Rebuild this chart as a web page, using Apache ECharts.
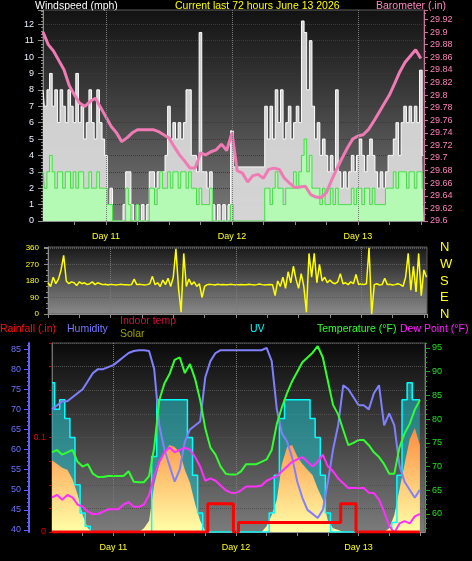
<!DOCTYPE html>
<html>
<head>
<meta charset="utf-8">
<title>Current last 72 hours</title>
<script src="https://cdn.jsdelivr.net/npm/echarts@6.0.0/dist/echarts.min.js"></script>
<style>
html, body { margin: 0; padding: 0; background: #000; }
#main { width: 472px; height: 561px; }
</style>
</head>
<body>
<div id="main"></div>
<script>
// x values are hours counted from June 10 00:00, data starts at noon
var startHour = 12;
var windStep = 0.5;   // wind samples every half hour
var hourStep = 1;     // everything else hourly

var dayTicks = [24, 48, 72];
var dayNames = ['Day 11', 'Day 12', 'Day 13'];
var compassTicks = [0, 90, 180, 270, 360];
var compassNames = ['N', 'E', 'S', 'W', 'N'];
var humidityTicks = [40, 45, 50, 55, 60, 65, 70, 75, 80, 85];
var humidityMinor = [40, 41, 42, 43, 44, 45, 46, 47, 48, 49, 50, 51, 52, 53, 54, 55, 56, 57, 58, 59, 60, 61, 62, 63, 64, 65, 66, 67, 68, 69, 70, 71, 72, 73, 74, 75, 76, 77, 78, 79, 80, 81, 82, 83, 84, 85, 86];
var tempTicks = [60, 65, 70, 75, 80, 85, 90, 95];
var tempMinor = [57, 58, 59, 60, 61, 62, 63, 64, 65, 66, 67, 68, 69, 70, 71, 72, 73, 74, 75, 76, 77, 78, 79, 80, 81, 82, 83, 84, 85, 86, 87, 88, 89, 90, 91, 92, 93, 94, 95, 96];

// wind (mph), half hourly
var gust = [8, 7, 8, 9, 7, 8, 6, 8, 7, 6, 8, 7, 6, 9, 6, 7, 5, 6, 8, 6, 5, 8, 6, 5,
  4, 1, 2, 0, 0, 0, 0, 1, 3, 3, 1, 0, 1, 0, 1, 0, 1, 3, 3, 2, 3, 3, 3, 4,
  7, 5, 6, 5, 6, 5, 6, 8, 8, 4, 4, 3, 11.5, 3, 3, 2, 3, 1, 0, 1, 0, 1, 0, 1,
  5.5, 3.3, 3.3, 3.3, 3.3, 3.3, 3.3, 3.3, 3.3, 3.3, 3.3, 3.3, 3.3, 7, 5, 7, 5, 8, 6, 8, 5, 6, 7, 5,
  6, 7, 6, 12.2, 11.5, 8, 11, 7, 5, 6, 4, 5, 4, 3, 4, 3, 8, 3, 2, 3, 2, 3, 4, 3,
  4, 5, 4, 3, 4, 5, 4, 3, 2, 3, 2, 3, 4, 4, 5, 6, 4, 6, 7, 6, 7, 6, 7, 6, 9.2, 4];
var windAvg = [3, 2, 3, 4, 3, 2, 3, 3, 2, 3, 3, 2, 3, 2, 3, 3, 2, 2, 3, 2, 2, 3, 2, 2,
  2, 1, 1, 0, 0, 0, 0, 0, 2, 1, 0, 0, 1, 0, 0, 0, 0, 2, 2, 1, 2, 3, 2, 2,
  3, 2, 3, 3, 2, 3, 3, 2, 3, 2, 2, 1, 2, 1, 1, 1, 2, 0, 0, 0, 0, 0, 0, 0,
  1, 0, 0, 0, 0, 0, 0, 0, 0, 0, 0, 0, 0, 2, 2, 1, 2, 3, 2, 2, 1, 2, 2, 2,
  3, 2, 3, 4, 5, 3, 4, 2, 2, 2, 1, 2, 1, 1, 2, 1, 2, 1, 1, 1, 1, 1, 2, 1,
  2, 2, 1, 2, 2, 1, 2, 1, 1, 1, 1, 2, 2, 2, 3, 2, 3, 3, 3, 2, 3, 3, 2, 3, 3, 2];
// wind direction (degrees), half hourly
var windDir = [170, 150, 200, 165, 190, 240, 320, 180, 165, 175, 170, 155, 175, 165, 170, 160, 165, 175, 160, 170, 165, 160, 162, 158,
  162, 160, 158, 160, 162, 160, 160, 158, 160, 190, 160, 162, 160, 158, 160, 165, 205, 160, 170, 150, 185, 160, 195, 150,
  200, 355, 140, 10, 330, 150, 190, 160, 175, 150, 165, 90, 150, 160, 162, 160, 158, 162, 160, 161, 159, 160, 162, 160,
  158, 160, 161, 160, 159, 162, 160, 158, 160, 163, 160, 158, 160, 161, 160, 100, 180, 150, 200, 140, 230, 170, 260, 190,
  140, 220, 150, 10, 330, 200, 330, 170, 270, 180, 200, 170, 185, 170, 165, 175, 220, 165, 170, 160, 175, 165, 215, 160,
  165, 160, 165, 360, 0, 160, 165, 158, 160, 195, 160, 162, 158, 160, 165, 160, 150, 200, 330, 130, 260, 120, 330, 100, 240, 200];

// hourly series
var baro = [29.90, 29.88, 29.87, 29.855, 29.84, 29.815, 29.80, 29.787, 29.782, 29.79,
  29.795, 29.78, 29.765, 29.75, 29.74, 29.726, 29.732, 29.74, 29.745, 29.745,
  29.745, 29.745, 29.742, 29.737, 29.732, 29.718, 29.705, 29.695, 29.684, 29.684,
  29.708, 29.705, 29.71, 29.713, 29.722, 29.712, 29.74, 29.68, 29.676, 29.662,
  29.672, 29.674, 29.668, 29.682, 29.684, 29.682, 29.668, 29.66, 29.653, 29.654,
  29.655, 29.642, 29.638, 29.637, 29.645, 29.665, 29.683, 29.70, 29.716, 29.73,
  29.735, 29.737, 29.745, 29.758, 29.772, 29.786, 29.80, 29.818, 29.837, 29.852,
  29.862, 29.872, 29.858];
var humidity = [70, 71, 72, 72, 73, 74, 75, 77, 79, 80,
  80, 80.5, 81, 82, 83, 84, 84.5, 84.7, 84.7, 84.5,
  80, 66, 60, 56, 52, 55, 62, 65, 66, 67,
  78, 82, 84, 84.7, 84.7, 84.7, 84.7, 84.7, 84.7, 84.7,
  84.7, 84.7, 85.3, 82, 70, 64, 62, 58, 52, 48,
  45, 44, 43, 45, 52, 60, 66, 76, 75, 73,
  71, 71, 70, 74, 76, 66, 69, 66, 56, 52,
  50, 48, 50];
var temperature = [73, 73.5, 72.5, 73, 73.5, 71, 70, 70.5, 68.5, 67.8,
  67.8, 68, 68, 68, 68, 69, 66.8, 66.7, 66.7, 68,
  74, 84, 87.5, 89.5, 92.5, 93, 89.7, 91.6, 88.5, 84,
  78, 74, 72.5, 70, 68.5, 68.3, 68.3, 69, 70.5, 70.5,
  70.5, 71, 71.5, 73.5, 79, 82.5, 85.5, 88, 90, 92,
  93, 94, 95.4, 93, 88, 83, 81, 77.7, 74.5, 75,
  75.6, 75.6, 74.5, 73, 72, 70.5, 68.5, 68.5, 74, 77,
  79, 82, 84];
var dewPoint = [63.5, 64, 63, 64, 63.5, 62, 61.5, 60.5, 60, 60,
  60.5, 61, 61, 61, 62, 62.5, 61.5, 61.5, 62, 64,
  68, 71, 73, 74, 73, 73.5, 74, 73.5, 72, 70,
  67, 67.5, 67, 66, 65, 64.5, 64.4, 65, 65.8, 65.8,
  65.8, 66, 67, 67.5, 68, 69, 70, 71, 71.5, 72,
  71, 70, 71, 72.5, 70, 69, 67.5, 66.5, 65.5, 65.5,
  65.5, 65.5, 64.5, 64.4, 63, 60.5, 57.5, 56, 58, 58.5,
  58, 59.5, 60];
var solar = [380, 360, 340, 330, 280, 200, 90, 20, 0, 0,
  0, 0, 0, 0, 0, 0, 0, 0, 20, 60,
  250, 360, 420, 460, 450, 420, 330, 260, 150, 60,
  5, 0, 0, 0, 0, 0, 0, 0, 0, 0,
  0, 0, 30, 90, 170, 360, 450, 460, 400, 360,
  330, 300, 230, 170, 60, 20, 10, 0, 0, 0,
  0, 0, 0, 0, 0, 0, 20, 90, 225, 360,
  490, 550, 460];
var uv = [7.9, 6.5, 7, 6, 5, 2.5, 1, 0.3, 0, 0,
  0, 0, 0, 0, 0, 0, 0, 0, 0, 0,
  4, 7, 7, 7, 7, 7, 7, 5, 3, 1,
  0, 0, 0, 0, 0, 0, 0, 0, 0, 0,
  0, 0, 0, 1, 3, 6, 7, 7, 7, 7,
  7, 6, 5, 3, 1, 0, 0, 0, 0, 0,
  0, 0, 0, 0, 0, 0, 0, 0.5, 3, 7,
  7.9, 7, 7];
var rain = [0, 0, 0, 0, 0, 0, 0, 0, 0, 0,
  0, 0, 0, 0, 0, 0, 0, 0, 0, 0,
  0, 0, 0, 0, 0, 0, 0, 0, 0, 0,
  0, 0.03, 0.03, 0.03, 0.03, 0.03, 0, 0.01, 0.01, 0.01,
  0.01, 0.01, 0.01, 0.01, 0.01, 0.01, 0.01, 0.01, 0.01, 0.01,
  0.01, 0.01, 0.01, 0.01, 0.01, 0.01, 0.01, 0.03, 0.03, 0.03,
  0, 0, 0, 0, 0, 0, 0, 0, 0, 0,
  0, 0, 0];

var font = '"Liberation Sans", Arial, sans-serif';

function pairs(arr, step) {
  return arr.map(function (v, i) { return [startHour + i * step, v]; });
}
function shade(top, bottom) {
  return { type: 'linear', x: 0, y: 0, x2: 0, y2: 1,
    colorStops: [{ offset: 0, color: top }, { offset: 1, color: bottom }] };
}
function dayLabel(v) {
  var k = dayTicks.indexOf(v);
  return k >= 0 ? dayNames[k] : '';
}
function hourAxis(gi, max, labels) {
  return {
    type: 'value', gridIndex: gi, min: 12, max: max, interval: 6,
    axisLine: { show: true, lineStyle: { color: '#8c8c8c' } },
    axisTick: { show: true, length: 4, lineStyle: { color: '#8c8c8c' } },
    axisLabel: { show: labels, color: '#ffff20', fontSize: 9, fontFamily: font, margin: 11,
      formatter: dayLabel, showMinLabel: false, showMaxLabel: false },
    splitLine: { show: false }
  };
}
// dotted lines on day boundaries
var dayLines = {
  silent: true, symbol: 'none', label: { show: false },
  lineStyle: { type: 'dotted', color: '#7a7a7a', width: 1 },
  data: dayTicks.map(function (d) { return { xAxis: d }; })
};
function txt(x, y, s, c) {
  return { type: 'text', x: x, y: y, style: { text: s, fill: c, font: '10.5px ' + font } };
}

var myChart = echarts.init(document.getElementById('main'));
var option = {
  backgroundColor: '#000',
  animation: false,
  graphic: [
    txt(35, 1, 'Windspeed (mph)', '#ffffff'),
    txt(175, 1, 'Current last 72 hours June 13 2026', '#ffff00'),
    txt(376, 1, 'Barometer (.in)', '#ff88c0'),
    txt(0, 324, 'Rainfall (.in)', '#ff1010'),
    txt(67, 324, 'Humidity', '#7878ff'),
    txt(120, 316, 'Indoor temp', '#c8143c'),
    txt(120, 329, 'Solar', '#a0a000'),
    txt(250, 324, 'UV', '#00ffff'),
    txt(317, 324, 'Temperature (°F)', '#30ff30'),
    txt(400, 324, 'Dew Point (°F)', '#ff20ff')
  ],
  grid: [
    { left: 43, right: 48, top: 10, height: 211, show: true, backgroundColor: shade('#121212', '#7a7a7a'), borderColor: '#5a5a5a', borderWidth: 1 },
    { left: 48, right: 45, top: 247, height: 67, show: true, backgroundColor: shade('#181818', '#8a8a8a'), borderColor: '#5a5a5a', borderWidth: 1 },
    { left: 52, right: 47, top: 343, height: 189, show: true, backgroundColor: shade('#0a0a0a', '#7c7c7c'), borderColor: '#5a5a5a', borderWidth: 1 }
  ],
  xAxis: [hourAxis(0, 84.6, true), hourAxis(1, 84.6, false), hourAxis(2, 85, true)],
  yAxis: [
    { // 0 wind speed
      type: 'value', gridIndex: 0, position: 'left', min: 0, max: 12.87, interval: 1,
      axisLine: { show: true, lineStyle: { color: '#8c8c8c' } },
      axisTick: { show: true, length: 5, lineStyle: { color: '#8c8c8c' } },
      minorTick: { show: true, splitNumber: 5, length: 2, lineStyle: { color: '#8c8c8c' } },
      axisLabel: { color: '#e8f0ff', fontSize: 9, fontFamily: font, margin: 9, showMaxLabel: false },
      splitLine: { show: true, lineStyle: { type: 'dotted', color: '#3a3a3a' } }
    },
    { // 1 barometer
      type: 'value', gridIndex: 0, position: 'right', min: 29.6, max: 29.935, interval: 0.02,
      axisLine: { show: true, lineStyle: { color: '#d070a0' } },
      axisTick: { show: true, length: 4, lineStyle: { color: '#d070a0' } },
      minorTick: { show: true, splitNumber: 2, length: 2, lineStyle: { color: '#d070a0' } },
      axisLabel: { color: '#ff80b8', fontSize: 9, fontFamily: font, margin: 6, showMaxLabel: false },
      splitLine: { show: false }
    },
    { // 2 wind direction
      type: 'value', gridIndex: 1, position: 'left', min: 0, max: 365, interval: 90,
      axisLine: { show: true, lineStyle: { color: '#8c8c8c' } },
      axisTick: { show: true, length: 4, lineStyle: { color: '#8c8c8c' } },
      minorTick: { show: true, splitNumber: 3, length: 2, lineStyle: { color: '#8c8c8c' } },
      axisLabel: { color: '#ffff20', fontSize: 8, fontFamily: font, margin: 9, showMaxLabel: false },
      splitLine: { show: true, lineStyle: { type: 'dotted', color: '#5a5a5a' } }
    },
    { // 3 compass letters
      type: 'value', gridIndex: 1, position: 'right', min: 0, max: 365, interval: 90,
      axisLine: { show: false }, axisTick: { show: false }, splitLine: { show: false },
      axisLabel: { color: '#ffff20', fontSize: 13, fontFamily: font, margin: 13, showMaxLabel: false,
        formatter: function (v) { var k = compassTicks.indexOf(v); return k >= 0 ? compassNames[k] : ''; } }
    },
    { // 4 rainfall
      type: 'value', gridIndex: 2, position: 'left', min: 0, max: 0.2, interval: 0.025,
      axisLine: { show: true, lineStyle: { color: '#707070' } },
      axisTick: { show: true, length: 3, lineStyle: { color: '#d00000' } },
      axisLabel: { color: '#e00000', fontSize: 9, fontFamily: font, margin: 6,
        formatter: function (v) { return Math.abs(v) < 1e-6 ? '0' : (Math.abs(v - 0.1) < 1e-6 ? '0.1' : ''); } },
      splitLine: { show: true, lineStyle: { type: 'dotted', color: '#505050' } }
    },
    { // 5 humidity
      type: 'value', gridIndex: 2, position: 'left', offset: 23, min: 39.5, max: 86.5,
      axisLine: { show: true, lineStyle: { color: '#6060ff', width: 2 } },
      axisTick: { show: true, length: 5, customValues: humidityTicks, lineStyle: { color: '#6060ff' } },
      axisLabel: { color: '#7070ff', fontSize: 9, fontFamily: font, margin: 8, customValues: humidityTicks },
      splitLine: { show: false }
    },
    { // 6 humidity minor ticks
      type: 'value', gridIndex: 2, position: 'left', offset: 23, min: 39.5, max: 86.5,
      axisLine: { show: false },
      axisTick: { show: true, length: 2, customValues: humidityMinor, lineStyle: { color: '#6060ff' } },
      axisLabel: { show: false }, splitLine: { show: false }
    },
    { // 7 temperature / dew point
      type: 'value', gridIndex: 2, position: 'right', min: 56.2, max: 96.05,
      axisLine: { show: true, lineStyle: { color: '#808080' } },
      axisTick: { show: true, length: 5, customValues: tempTicks, lineStyle: { color: '#10b010' } },
      axisLabel: { color: '#20e020', fontSize: 9, fontFamily: font, margin: 7, customValues: tempTicks },
      splitLine: { show: false }
    },
    { // 8 temperature minor ticks
      type: 'value', gridIndex: 2, position: 'right', min: 56.2, max: 96.05,
      axisLine: { show: false },
      axisTick: { show: true, length: 2, customValues: tempMinor, lineStyle: { color: '#10b010' } },
      axisLabel: { show: false }, splitLine: { show: false }
    },
    { type: 'value', gridIndex: 2, min: 0, max: 1000, show: false }, // 9 solar
    { type: 'value', gridIndex: 2, min: 0, max: 10, show: false }    // 10 uv
  ],
  series: [
    {
      name: 'Gust', type: 'line', xAxisIndex: 0, yAxisIndex: 0, step: 'middle', symbol: 'none',
      lineStyle: { color: '#ffffff', width: 1 },
      areaStyle: { color: '#dcdcdc', opacity: 0.92 },
      markLine: dayLines,
      data: pairs(gust, windStep)
    },
    {
      name: 'Wind', type: 'line', xAxisIndex: 0, yAxisIndex: 0, step: 'middle', symbol: 'none',
      lineStyle: { color: '#40e040', width: 1 },
      areaStyle: { color: '#b4fab4', opacity: 1 },
      data: pairs(windAvg, windStep)
    },
    {
      name: 'Barometer', type: 'line', xAxisIndex: 0, yAxisIndex: 1, symbol: 'none',
      lineStyle: { color: '#f07ab4', width: 3 },
      data: pairs(baro, hourStep)
    },
    {
      name: 'Direction', type: 'line', xAxisIndex: 1, yAxisIndex: 2, symbol: 'none',
      lineStyle: { color: '#ffff00', width: 1.5 },
      markLine: dayLines,
      data: pairs(windDir, windStep)
    },
    {
      name: 'UV', type: 'line', xAxisIndex: 2, yAxisIndex: 10, step: 'middle', symbol: 'none',
      lineStyle: { color: '#00ffff', width: 1.5 },
      areaStyle: { color: '#20c0c8', opacity: 0.55 },
      markLine: dayLines,
      data: pairs(uv, hourStep)
    },
    {
      name: 'Solar', type: 'line', xAxisIndex: 2, yAxisIndex: 9, symbol: 'none',
      lineStyle: { width: 0 },
      areaStyle: { color: shade('#ff8c40', '#ffffa8'), opacity: 1 },
      data: pairs(solar, hourStep)
    },
    {
      name: 'Humidity', type: 'line', xAxisIndex: 2, yAxisIndex: 5, symbol: 'none',
      lineStyle: { color: '#8080ff', width: 2 },
      data: pairs(humidity, hourStep)
    },
    {
      name: 'Temperature', type: 'line', xAxisIndex: 2, yAxisIndex: 7, symbol: 'none',
      lineStyle: { color: '#30ff30', width: 2 },
      data: pairs(temperature, hourStep)
    },
    {
      name: 'Dew Point', type: 'line', xAxisIndex: 2, yAxisIndex: 7, symbol: 'none',
      lineStyle: { color: '#ff30ff', width: 2 },
      data: pairs(dewPoint, hourStep)
    },
    {
      name: 'Rainfall', type: 'line', xAxisIndex: 2, yAxisIndex: 4, step: 'middle', symbol: 'none',
      lineStyle: { color: '#ff0000', width: 3 },
      data: pairs(rain, hourStep)
    }
  ]
};
option && myChart.setOption(option);
</script>
</body>
</html>
